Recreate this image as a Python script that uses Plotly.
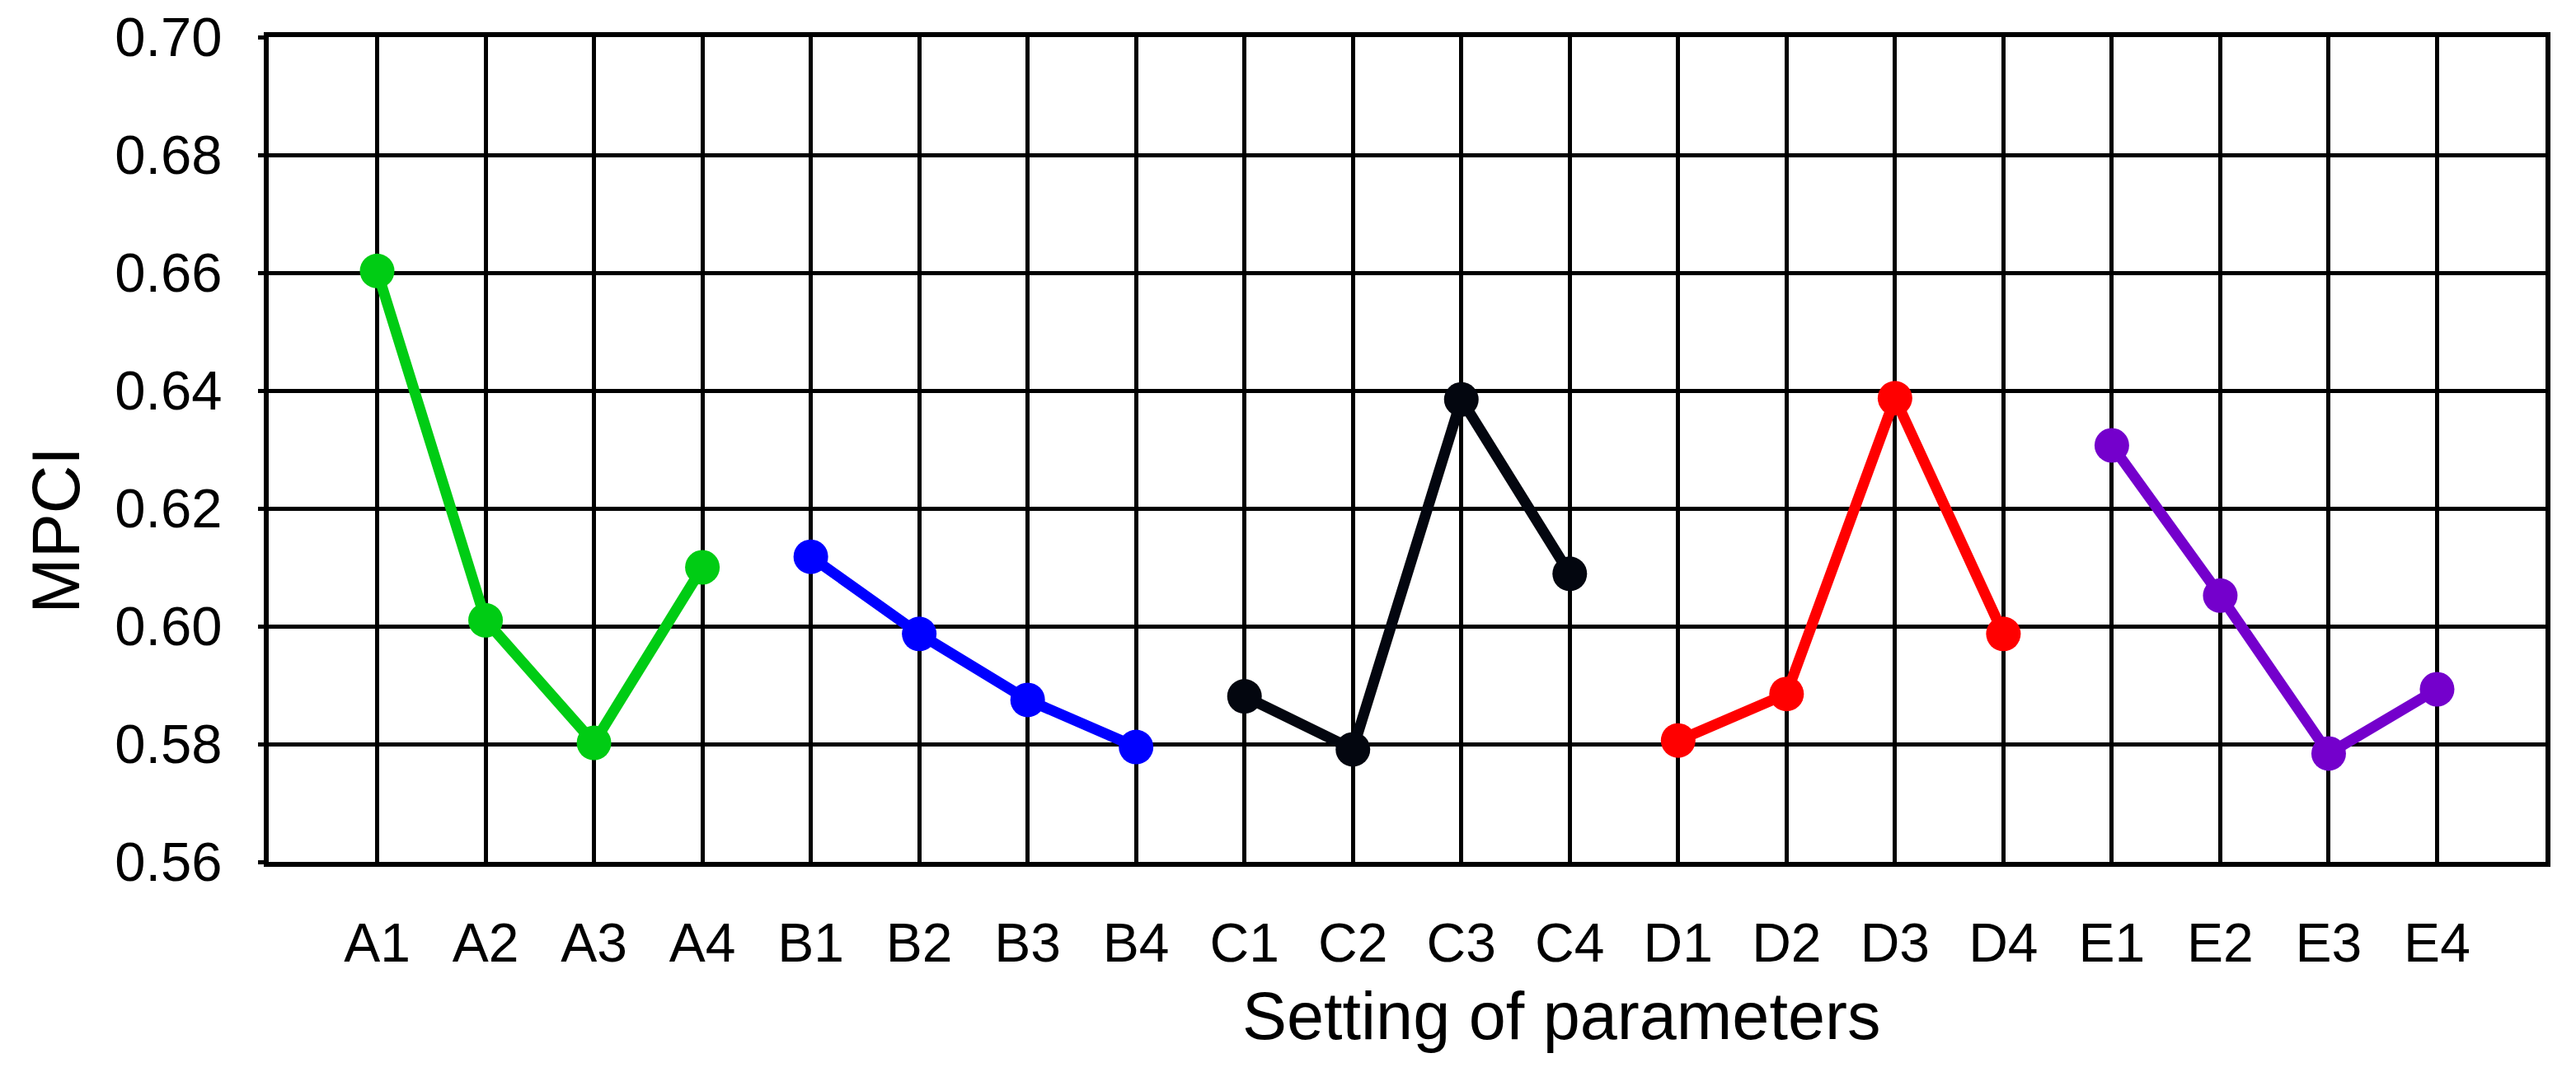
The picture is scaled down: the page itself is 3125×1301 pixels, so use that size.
import plotly.graph_objects as go

# settings and MPCI values
settings = ["A1", "A2", "A3", "A4", "B1", "B2", "B3", "B4", "C1", "C2",
            "C3", "C4", "D1", "D2", "D3", "D4", "E1", "E2", "E3", "E4"]

mpci_a = [0.6603, 0.6010, 0.5802, 0.6100]
mpci_b = [0.6118, 0.5987, 0.5875, 0.5795]
mpci_c = [0.5881, 0.5791, 0.6385, 0.6089]
mpci_d = [0.5806, 0.5885, 0.6387, 0.5987]
mpci_e = [0.6307, 0.6052, 0.5784, 0.5893]

y_ticks = [0.56, 0.58, 0.60, 0.62, 0.64, 0.66, 0.68, 0.70]

groups = [
    (settings[0:4], mpci_a, "#00CC14"),
    (settings[4:8], mpci_b, "#0000FF"),
    (settings[8:12], mpci_c, "#03060F"),
    (settings[12:16], mpci_d, "#FF0000"),
    (settings[16:20], mpci_e, "#7400CC"),
]

font = "Liberation Sans, Arial, sans-serif"

fig = go.Figure()
for xs, ys, col in groups:
    fig.add_trace(go.Scatter(
        x=xs, y=ys, mode="lines+markers",
        line=dict(color=col, width=13),
        marker=dict(color=col, size=42),
        showlegend=False,
    ))

fig.update_xaxes(
    type="category",
    categoryorder="array", categoryarray=settings,
    range=[-1, 20], automargin=False,
    showgrid=True, gridcolor="black", gridwidth=5,
    showline=True, linecolor="black", linewidth=6, mirror=True,
    ticks="", ticklabelstandoff=36,
    tickfont=dict(family=font, size=66, color="black"),
)
fig.update_yaxes(
    range=[0.56, 0.70], automargin=False,
    tickmode="array", tickvals=y_ticks,
    ticktext=[f"{v:.2f}" for v in y_ticks],
    ticklabeloverflow="allow",
    showgrid=True, gridcolor="black", gridwidth=5,
    showline=True, linecolor="black", linewidth=6, mirror=True,
    zeroline=False,
    ticks="outside", ticklen=7, tickwidth=5, tickcolor="black",
    ticklabelstandoff=30,
    tickfont=dict(family=font, size=67, color="black"),
)

fig.update_layout(
    width=3125, height=1301,
    margin=dict(l=318, r=45, t=37, b=263),
    plot_bgcolor="white", paper_bgcolor="white",
    annotations=[
        dict(text="Setting of parameters", xref="paper", yref="paper",
             x=0.5677, y=-0.14, xanchor="center", yanchor="top",
             showarrow=False, font=dict(family=font, size=81, color="black")),
        dict(text="MPCI", xref="paper", yref="paper",
             x=-0.0937, y=0.402, xanchor="center", yanchor="middle",
             textangle=-90, showarrow=False,
             font=dict(family=font, size=81, color="black")),
    ],
)

fig.write_html("out.html")
